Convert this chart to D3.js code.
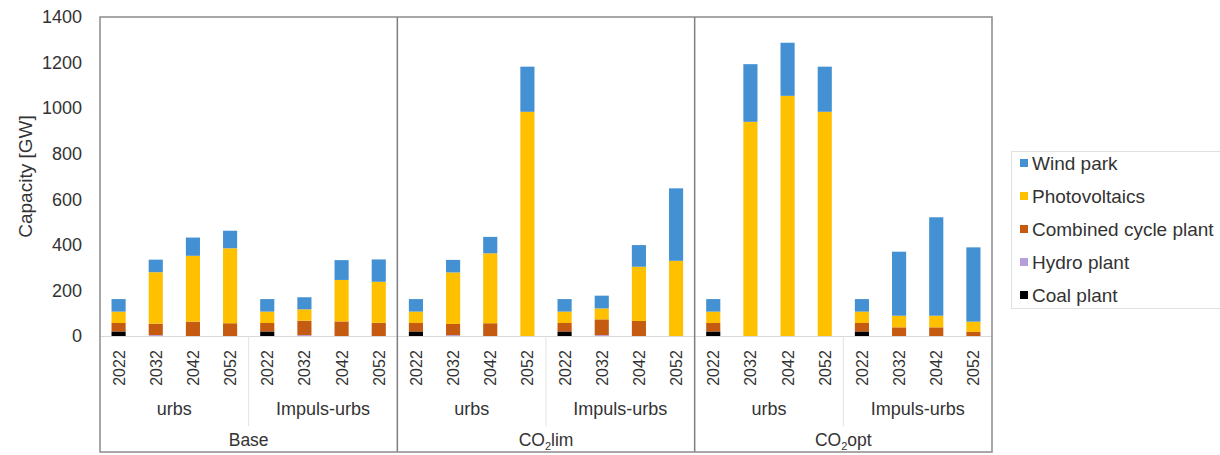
<!DOCTYPE html>
<html>
<head>
<meta charset="utf-8">
<script src="https://cdn.jsdelivr.net/npm/d3@7"></script>
<style>
  html, body { margin: 0; padding: 0; background: #fff; }
  svg { display: block; font-family: "Liberation Sans", Arial, sans-serif; }
</style>
</head>
<body>
<svg id="chart" width="1220" height="455"></svg>
<script>
// Scenarios, models and years that make up the 24 stacked bars
const scenarios = ["Base", "CO2lim", "CO2opt"];
const models = ["urbs", "Impuls-urbs"];
const years = ["2022", "2032", "2042", "2052"];

// Technologies, bottom of stack first
const technologies = ["Coal plant", "Hydro plant", "Combined cycle plant", "Photovoltaics", "Wind park"];
const techColors = ["#000000", "#b79fdc", "#c55a11", "#ffc000", "#4390d2"];

// Installed capacity [GW], one entry per bar (scenario > model > year)
const coalPlant = [20, 0, 0, 0, 20, 0, 0, 0,  20, 0, 0, 0, 20, 0, 0, 0,  20, 0, 0, 0, 20, 0, 0, 0];
const hydroPlant = [0, 4, 0, 0, 0, 4, 0, 0,  0, 4, 0, 0, 0, 4, 0, 0,  0, 0, 0, 0, 0, 0, 0, 0];
const combinedCycle = [37, 50, 63, 56, 37, 63, 64, 58,  37, 49, 56, 0, 37, 69, 66, 0,  37, 0, 0, 0, 37, 38, 38, 18];
const photovoltaics = [50, 226, 289, 329, 50, 50, 182, 180,  50, 226, 307, 984, 50, 48, 238, 330,  50, 940, 1054, 984, 50, 51, 51, 45];
const windPark = [55, 55, 80, 77, 55, 53, 87, 98,  55, 55, 72, 198, 55, 56, 95, 318,  55, 253, 233, 198, 55, 281, 432, 326];

const yTicks = [0, 200, 400, 600, 800, 1000, 1200, 1400];
const yLabel = "Capacity [GW]";

const series = [coalPlant, hydroPlant, combinedCycle, photovoltaics, windPark];

// Build rows for the stack layout
const rows = [];
scenarios.forEach((s, si) => models.forEach((m, mi) => years.forEach((y, yi) => {
  const i = si * 8 + mi * 4 + yi;
  const row = { key: `${s}|${m}|${y}`, scenario: s, model: m, year: y };
  technologies.forEach((t, ti) => { row[t] = series[ti][i]; });
  rows.push(row);
})));

const svg = d3.select("#chart");
const textColor = "#333333";

const plot = { left: 100, right: 992, top: 17, base: 336, bottom: 452 };

const x = d3.scaleBand()
  .domain(rows.map(d => d.key))
  .range([plot.left, plot.right])
  .paddingInner(0.62)
  .paddingOuter(0.31);

const y = d3.scaleLinear().domain([0, 1400]).range([plot.base, plot.top]);

const color = d3.scaleOrdinal().domain(technologies).range(techColors);

const stacked = d3.stack().keys(technologies)(rows);

// Bars
svg.append("g")
  .selectAll("g")
  .data(stacked)
  .join("g")
  .attr("fill", d => color(d.key))
  .selectAll("rect")
  .data(d => d)
  .join("rect")
  .attr("x", d => x(d.data.key))
  .attr("width", x.bandwidth())
  .attr("y", d => y(d[1]))
  .attr("height", d => y(d[0]) - y(d[1]));

// Category baseline
svg.append("line")
  .attr("x1", plot.left).attr("x2", plot.right)
  .attr("y1", plot.base + 0.5).attr("y2", plot.base + 0.5)
  .attr("stroke", "#d9d9d9").attr("stroke-width", 1);

// Y axis tick labels
const yAxis = d3.axisLeft(y).tickValues(yTicks).tickSize(0).tickPadding(18).tickFormat(d3.format("d"));
const yg = svg.append("g").attr("transform", `translate(${plot.left},0)`).call(yAxis);
yg.select(".domain").remove();
yg.selectAll("text")
  .attr("font-size", 18)
  .attr("font-family", "Liberation Sans, Arial, sans-serif")
  .attr("fill", textColor);

svg.append("text")
  .attr("transform", `translate(32,${(plot.top + plot.base) / 2}) rotate(-90)`)
  .attr("text-anchor", "middle")
  .attr("font-size", 19)
  .attr("fill", textColor)
  .text(yLabel);

// Year labels (rotated)
svg.append("g")
  .selectAll("text")
  .data(rows)
  .join("text")
  .attr("transform", d => `translate(${x(d.key) + x.bandwidth() / 2 + 6},${plot.base + 32}) rotate(-90)`)
  .attr("text-anchor", "middle")
  .attr("font-size", 16)
  .attr("fill", textColor)
  .text(d => d.year);

// Model labels and separators
const groupWidth = (plot.right - plot.left) / scenarios.length;
const modelWidth = groupWidth / models.length;
scenarios.forEach((s, si) => {
  models.forEach((m, mi) => {
    const cx = plot.left + si * groupWidth + (mi + 0.5) * modelWidth;
    svg.append("text")
      .attr("x", cx).attr("y", 415)
      .attr("text-anchor", "middle")
      .attr("font-size", 18)
      .attr("fill", textColor)
      .text(m);
  });
  const mid = plot.left + si * groupWidth + modelWidth;
  svg.append("line")
    .attr("x1", mid).attr("x2", mid)
    .attr("y1", plot.base).attr("y2", 426)
    .attr("stroke", "#e3e3e3").attr("stroke-width", 1);

  // Scenario label with subscript for CO2
  const t = svg.append("text")
    .attr("x", plot.left + (si + 0.5) * groupWidth).attr("y", 446)
    .attr("text-anchor", "middle")
    .attr("font-size", 17.5)
    .attr("fill", textColor);
  if (s.startsWith("CO2")) {
    t.append("tspan").text("CO");
    t.append("tspan").attr("font-size", 11).attr("dy", 4).text("2");
    t.append("tspan").attr("dy", -4).text(s.slice(3));
  } else {
    t.text(s);
  }
});

// Scenario separators
scenarios.slice(1).forEach((s, i) => {
  const sx = plot.left + (i + 1) * groupWidth;
  svg.append("line")
    .attr("x1", sx).attr("x2", sx)
    .attr("y1", plot.top).attr("y2", plot.bottom)
    .attr("stroke", "#7f7f7f").attr("stroke-width", 1.5);
});

// Outer frame
svg.append("rect")
  .attr("x", plot.left).attr("y", plot.top)
  .attr("width", plot.right - plot.left)
  .attr("height", plot.bottom - plot.top)
  .attr("fill", "none")
  .attr("stroke", "#8a8a8a").attr("stroke-width", 1.5);

// Legend
const legend = svg.append("g");
legend.append("rect")
  .attr("x", 1011.5).attr("y", 151.5)
  .attr("width", 230).attr("height", 157)
  .attr("fill", "none").attr("stroke", "#e0e0e0");
const legendOrder = technologies.slice().reverse();
legendOrder.forEach((t, i) => {
  const ly = 163 + i * 33;
  legend.append("rect")
    .attr("x", 1020).attr("y", ly - 4)
    .attr("width", 8).attr("height", 8)
    .attr("fill", color(t));
  legend.append("text")
    .attr("x", 1032).attr("y", ly)
    .attr("dy", "0.35em")
    .attr("font-size", 19)
    .attr("fill", textColor)
    .text(t);
});
</script>
</body>
</html>
